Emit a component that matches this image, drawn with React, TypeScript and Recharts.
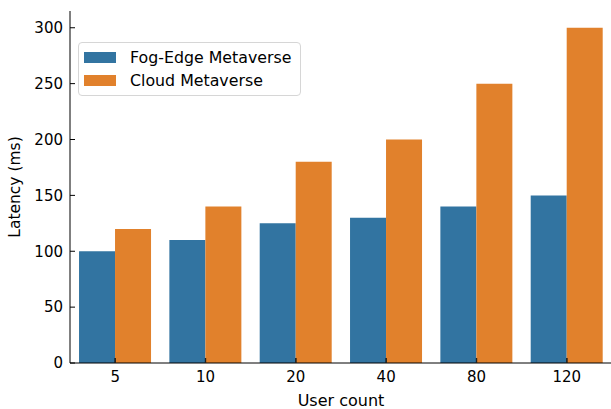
import { BarChart, Bar, XAxis, YAxis, Legend, ReferenceLine } from 'recharts';

const userCounts = ['5', '10', '20', '40', '80', '120'];
const fogEdge = [100, 110, 125, 130, 140, 150];
const cloud = [120, 140, 180, 200, 250, 300];
const yTicks = [0, 50, 100, 150, 200, 250, 300];
const seriesNames = ['Fog-Edge Metaverse', 'Cloud Metaverse'];

const data = userCounts.map((u, i) => ({ user: u, fog: fogEdge[i], cloud: cloud[i] }));

const FONT = "'DejaVu Sans', sans-serif";
const BLUE = '#3274a1';
const ORANGE = '#e1812c';
const tickFont = { fontSize: 15, fontFamily: FONT, fill: '#000' };

const YLabel = ({ viewBox }: any) => {
    const cx = viewBox.x + 5;
    const cy = viewBox.y + viewBox.height / 2;
    return (
        <text x={cx} y={cy} transform={`rotate(-90 ${cx} ${cy})`} textAnchor="middle" dominantBaseline="central"
            fontSize={15.5} fontFamily={FONT} fill="#000">
            Latency (ms)
        </text>
    );
};

const XLabel = ({ viewBox }: any) => (
    <text x={viewBox.x + viewBox.width / 2} y={viewBox.y + 37} textAnchor="middle" dominantBaseline="central"
        fontSize={16} fontFamily={FONT} fill="#000">
        User count
    </text>
);

const renderLegend = (props: any) => {
    const payload = [...(props.payload || [])].sort(
        (a: any, b: any) => seriesNames.indexOf(a.value) - seriesNames.indexOf(b.value));
    return (
        <div style={{
            boxSizing: 'border-box', width: 223, height: 54, border: '1px solid #d6d6d6', borderRadius: 4,
            background: 'rgba(255,255,255,0.8)', paddingTop: 2.5, fontFamily: FONT, fontSize: 15.8, color: '#000',
        }}>
            {payload.map((p: any) => (
                <div key={p.value} style={{ display: 'flex', alignItems: 'center', height: 23 }}>
                    <span style={{ display: 'inline-block', width: 32, height: 11, marginLeft: 5, marginRight: 14, background: p.color }} />
                    <span>{p.value}</span>
                </div>
            ))}
        </div>
    );
};

export default function App() {
    return (
        <div style={{ position: 'absolute', left: 0, top: 0, width: 611, height: 409, overflow: 'hidden', background: '#fff' }}>
            <BarChart width={620} height={409} data={data} margin={{ top: 11, right: 8, bottom: 0, left: 10 }}
                barCategoryGap="10%" barGap={0}>
                <XAxis xAxisId="top" dataKey="user" orientation="top" height={0} tick={false} tickLine={false}
                    axisLine={{ stroke: '#000', strokeWidth: 1 }} />
                <XAxis dataKey="user" height={46} tickSize={-5} tickMargin={13} tick={tickFont}
                    tickLine={{ stroke: '#222', strokeWidth: 1.2 }}
                    axisLine={{ stroke: '#000', strokeWidth: 1 }} label={<XLabel />} />
                <YAxis domain={[0, 315]} ticks={yTicks} width={60} tickSize={-5} tickMargin={12} tick={tickFont}
                    tickLine={{ stroke: '#000', strokeWidth: 1 }}
                    axisLine={{ stroke: '#000', strokeWidth: 1 }} label={<YLabel />} />
                <Bar dataKey="fog" name={seriesNames[0]} fill={BLUE} isAnimationActive={false} />
                <Bar dataKey="cloud" name={seriesNames[1]} fill={ORANGE} isAnimationActive={false} />
                {userCounts.map((u) => (
                    <ReferenceLine key={u} segment={[{ x: u, y: 0 }, { x: u, y: 4.5 }]}
                        stroke="#222" strokeWidth={1.2} ifOverflow="visible" />
                ))}
                <Legend layout="vertical" align="center" verticalAlign="middle" content={renderLegend}
                    wrapperStyle={{ position: 'absolute', left: 78, top: 42, width: 'auto' }} />
            </BarChart>
        </div>
    );
}
